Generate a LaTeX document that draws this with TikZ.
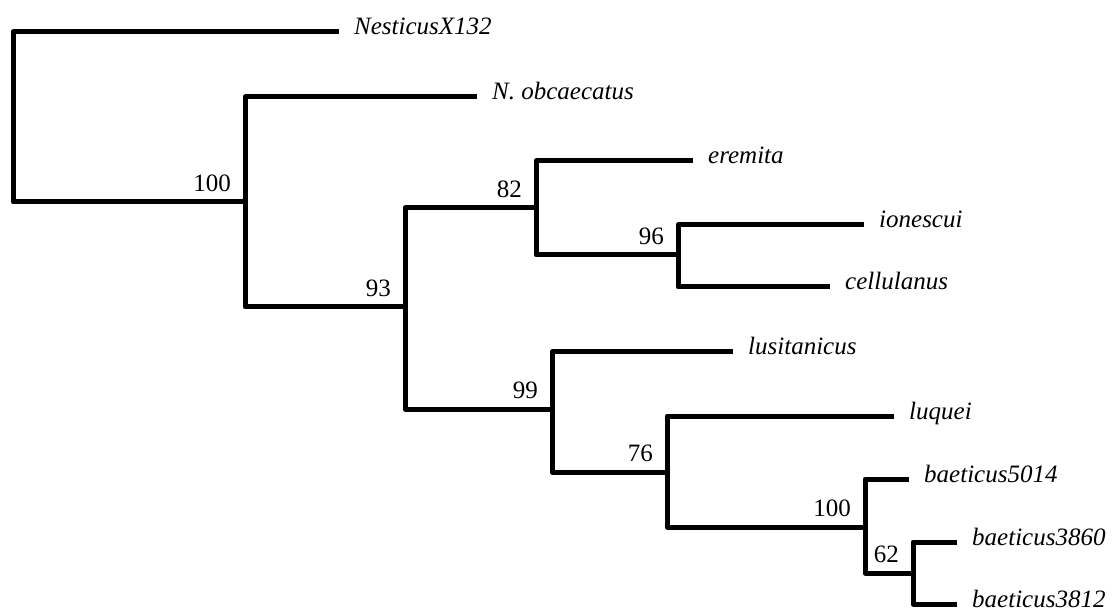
\documentclass[tikz,border=0pt]{standalone}
\usepackage{fontspec}
\setmainfont{Liberation Serif}
\begin{document}
\begin{tikzpicture}[x=1pt, y=-1pt, line join=round, font=\fontsize{25}{30}\selectfont,
	branch/.style={line width=5pt},
	taxon/.style={anchor=base west, inner sep=0pt, xshift=15pt, yshift=-3pt, font=\fontsize{25}{30}\selectfont\itshape},
	boot/.style={anchor=south east, inner sep=0pt, xshift=-14pt, yshift=10pt}]
	\useasboundingbox (0,0) rectangle (1116,609);
	% inner nodes
	\coordinate (r) at (13,117);
	\coordinate (a) at (245,202);
	\coordinate (b) at (405,307);
	\coordinate (c) at (536,208);
	\coordinate (d) at (678,255);
	\coordinate (e) at (552,409);
	\coordinate (f) at (667,472);
	\coordinate (g) at (865,527);
	\coordinate (h) at (913,573);
	% tips
	\coordinate (t1) at (339,32);
	\coordinate (t2) at (477,97);
	\coordinate (t3) at (693,161);
	\coordinate (t4) at (864,225);
	\coordinate (t5) at (830,287);
	\coordinate (t6) at (733,352);
	\coordinate (t7) at (894,416);
	\coordinate (t8) at (909,479);
	\coordinate (t9) at (957,542);
	\coordinate (t10) at (957,604);
	\foreach \p/\c in {r/t1,r/a,a/t2,a/b,b/c,b/e,c/t3,c/d,d/t4,d/t5,e/t6,e/f,f/t7,f/g,g/t8,g/h,h/t9,h/t10}\draw[branch] (\p) |- (\c);
	\foreach \t/\s in {t1/NesticusX132,t2/N. obcaecatus,t3/eremita,t4/ionescui,t5/cellulanus,t6/lusitanicus,t7/luquei,t8/baeticus5014,t9/baeticus3860,t10/baeticus3812}\node[taxon] (l\t) at (\t) {\s};
	\foreach \n/\v in {a/100,b/93,c/82,d/96,e/99,f/76,g/100,h/62}\node[boot] (s\n) at (\n) {\v};
\end{tikzpicture}
\end{document}
